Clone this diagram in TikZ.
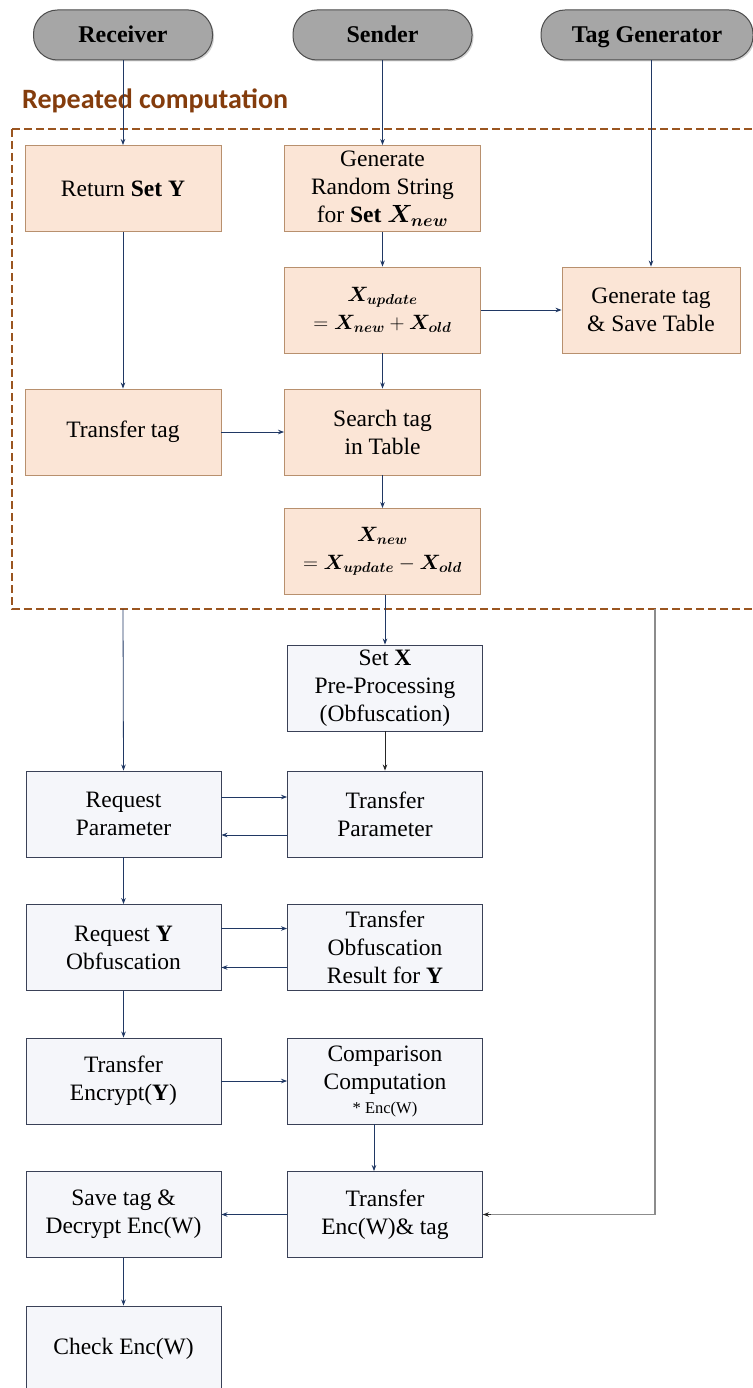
\documentclass[tikz,border=0pt]{standalone}
\usepackage{fontspec}
\setmainfont{Liberation Serif}
\newfontfamily\labfont{Carlito}
\usepackage{bm}
\usetikzlibrary{arrows.meta,shadows}
\definecolor{pillfill}{HTML}{A6A6A6}
\definecolor{pillline}{HTML}{4D4D4D}
\definecolor{peach}{HTML}{FBE5D6}
\definecolor{peachline}{HTML}{B8906E}
\definecolor{gfill}{HTML}{F5F6FA}
\definecolor{gline}{HTML}{3A4157}
\definecolor{navy}{HTML}{203864}
\definecolor{brownlab}{HTML}{843C0C}
\definecolor{browndash}{HTML}{9A5520}
\definecolor{tagline}{HTML}{8C8C8C}
\tikzset{
  pill/.style={draw=pillline, fill=pillfill, line width=1pt, rounded corners=24pt,
    minimum width=179pt, minimum height=50pt, font=\fontsize{24}{26}\selectfont\bfseries,
    text height=16pt, text depth=0pt,
    drop shadow={opacity=0.35, shadow xshift=1.5pt, shadow yshift=-1.5pt}},
  pbox/.style={draw=peachline, fill=peach, line width=0.9pt, minimum width=196pt,
    minimum height=86pt, align=center, inner sep=1pt, font=\fontsize{23.5}{28}\selectfont},
  mbox/.style={pbox, font=\fontsize{21}{28}\selectfont},
  gbox/.style={draw=gline, fill=gfill, line width=0.9pt, minimum width=195pt,
    minimum height=86pt, align=center, inner sep=1pt, font=\fontsize{23.5}{28}\selectfont},
  arr/.style={draw=navy, line width=0.8pt, -{Stealth[length=6pt,width=4.5pt]}},
  arrk/.style={draw=black!85, line width=0.8pt, -{Stealth[length=6pt,width=4.5pt]}},
  arrg/.style={draw=tagline, line width=1.6pt},
  dashbox/.style={draw=browndash, line width=2.4pt, dash pattern=on 8pt off 4pt},
}
\begin{document}
\begin{tikzpicture}[x=1pt,y=-1pt]
\useasboundingbox (0,0) rectangle (752,1388);
\fill[white] (0,0) rectangle (752,1388);

% pills
\node[pill] (rcv) at (123,35) {Receiver};
\node[pill] (snd) at (382.5,35) {Sender};
\node[pill, minimum width=212pt] (tg) at (647,35) {Tag Generator};

% label
\node[anchor=west, text=brownlab, inner sep=0pt, font=\labfont\fontsize{28}{30}\selectfont\bfseries] (lab) at (22,101) {Repeated computation};

% dashed region
\draw[dashbox] (12,129) -- (760,129);
\draw[dashbox] (12,129) -- (12,609) -- (760,609);
\coordinate (db1) at (123,609);
\coordinate (db3) at (655,609);

% peach boxes
\node[pbox] (ret) at (123,188.5) {Return \textbf{Set Y}};
\node[pbox] (gen) at (382.5,188.5) {Generate\\Random String\\for \textbf{Set} $\bm{X_{new}}$};
\node[mbox] (upd) at (382.5,310) {$\bm{X_{update}}$\\$=\bm{X_{new}}+\bm{X_{old}}$};
\node[pbox, minimum width=178pt] (gtag) at (651,310) {Generate tag\\\& Save Table};
\node[pbox] (ttag) at (123,432) {Transfer tag};
\node[pbox] (srch) at (382.5,432) {Search tag\\in Table};
\node[mbox] (xnew) at (382.5,551.5) {$\bm{X_{new}}$\\$=\bm{X_{update}}-\bm{X_{old}}$};

% grey boxes
\node[gbox] (setx) at (385,688) {Set \textbf{X}\\Pre-Processing\\(Obfuscation)};
\node[gbox] (reqp) at (123.5,814) {Request\\Parameter};
\node[gbox] (trp) at (385,814) {Transfer\\Parameter};
\node[gbox] (reqy) at (123.5,947.5) {Request \textbf{Y}\\Obfuscation};
\node[gbox] (tro) at (385,947.5) {Transfer\\Obfuscation\\Result for \textbf{Y}};
\node[gbox] (tre) at (123.5,1081) {Transfer\\Encrypt(\textbf{Y})};
\node[gbox] (cmp) at (385,1081) {Comparison\\Computation\\[-4pt]{\fontsize{16.5}{18}\selectfont * Enc(W)}};
\node[gbox] (sav) at (123.5,1214.5) {Save tag \&\\Decrypt Enc(W)};
\node[gbox] (trw) at (385,1214.5) {Transfer\\Enc(W)\& tag};
\node[gbox] (chk) at (123.5,1349) {Check Enc(W)};

% arrows in repeated region
\draw[arr] (rcv) -- (ret);
\draw[arr] (snd) -- (gen);
\draw[arr] (tg.south -| gtag.north) -- (gtag.north);
\draw[arr] (ret) -- (ttag);
\draw[arr] (gen) -- (upd);
\draw[arr] (upd) -- (gtag);
\draw[arr] (upd) -- (srch);
\draw[arr] (ttag) -- (srch);
\draw[arr] (srch) -- (xnew);
\draw[arr] (setx.north |- xnew.south) -- (setx.north);

% lower arrows
\draw[arr] (db1) -- (reqp.north);
\draw[arrk] (setx) -- (trp);
\draw[arr] ([yshift=17pt]reqp.east) -- ([yshift=17pt]trp.west);
\draw[arr] ([yshift=-21pt]trp.west) -- ([yshift=-21pt]reqp.east);
\draw[arr] (reqp) -- (reqy);
\draw[arr] ([yshift=19pt]reqy.east) -- ([yshift=19pt]tro.west);
\draw[arr] ([yshift=-20pt]tro.west) -- ([yshift=-20pt]reqy.east);
\draw[arr] (reqy) -- (tre);
\draw[arr] (tre) -- (cmp);
\draw[arr] ([xshift=-11pt]cmp.south) -- ([xshift=-11pt]trw.north);
\draw[arr] (trw) -- (sav);
\draw[arr] (sav) -- (chk);
\draw[arrg] (db3) |- (trw.east);
\draw[arrk] ([xshift=8pt]trw.east) -- (trw.east);
\end{tikzpicture}
\end{document}
